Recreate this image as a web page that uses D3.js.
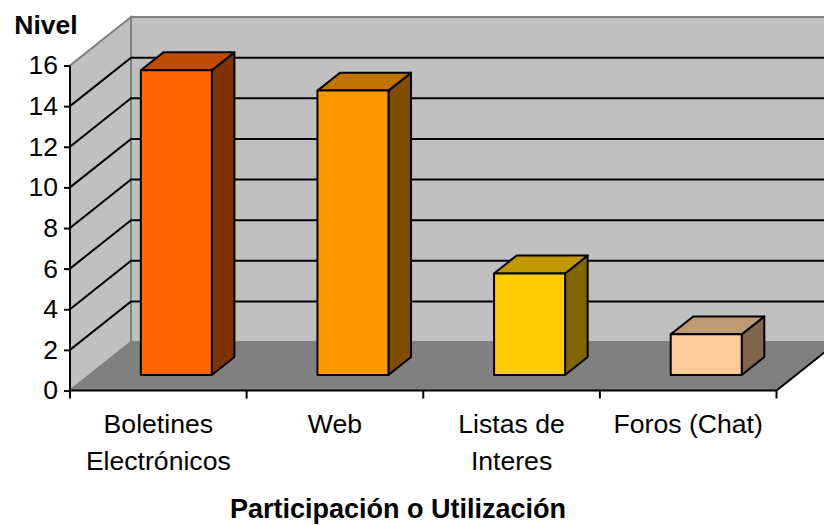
<!DOCTYPE html>
<html>
<head>
<meta charset="utf-8">
<script src="https://cdn.jsdelivr.net/npm/d3@7"></script>
<style>
html, body { margin: 0; padding: 0; background: #fff; }
svg { display: block; }
text { font-family: "Liberation Sans", Arial, sans-serif; fill: #000; }
</style>
</head>
<body>
<svg id="chart"></svg>
<script>
// datos
var categories = ["Boletines|Electrónicos", "Web", "Listas de|Interes", "Foros (Chat)"];
var values = [15, 14, 5, 2];
var faceColors = ["#FF6600", "#FF9900", "#FFCC00", "#FFCC99"];
var topColors = ["#BF4C00", "#BF7300", "#BF9900", "#BF9973"];
var sideColors = ["#7F3300", "#7F4C00", "#7F6600", "#7F664C"];
var yTicks = [0, 2, 4, 6, 8, 10, 12, 14, 16];

var width = 824, height = 525;
var depthX = 61, depthY = -48.5;   // desplazamiento de la pared del fondo

var svg = d3.select("#chart").attr("width", width).attr("height", height);

var x = d3.scaleBand().domain(d3.range(categories.length)).range([70, 776.5]);
var y = d3.scaleLinear().domain([0, 16]).range([390.5, 65.5]);

// proyeccion: valor de x, valor de y, profundidad 0..1
function p(px, py, t) {
    return [px + depthX * t, py + depthY * t];
}
var line = d3.line();
function poly(pts) { return line(pts) + "Z"; }

var xL = x.range()[0], xR = x.range()[1];

// pared lateral
svg.append("path")
    .attr("d", poly([p(xL, y(0), 0), p(xL, y(16), 0), p(xL, y(16), 1), p(xL, y(0), 1)]))
    .attr("fill", "#C0C0C0").attr("stroke", "#808080").attr("stroke-width", 2);
// pared del fondo
svg.append("path")
    .attr("d", poly([p(xL, y(0), 1), p(xL, y(16), 1), p(xR + 20, y(16), 1), p(xR + 20, y(0), 1)]))
    .attr("fill", "#C0C0C0").attr("stroke", "#808080").attr("stroke-width", 2);
// piso
svg.append("path")
    .attr("d", poly([p(xL, y(0), 0), p(xL, y(0), 1), p(xR, y(0), 1), p(xR, y(0), 0)]))
    .attr("fill", "#808080").attr("stroke", "#808080").attr("stroke-width", 1);

// lineas de division
var grid = yTicks.filter(function(d) { return d > 0 && d < 16; });
svg.selectAll(".grid").data(grid).enter().append("path")
    .attr("class", "grid")
    .attr("d", function(d) { return line([p(xL, y(d), 0), p(xL, y(d), 1), p(xR + 20, y(d), 1)]); })
    .attr("fill", "none").attr("stroke", "#000").attr("stroke-width", 2);

// borde derecho del piso
svg.append("path")
    .attr("d", line([p(xL, y(0), 0), p(xR, y(0), 0), p(xR, y(0), 1)]))
    .attr("fill", "none").attr("stroke", "#000").attr("stroke-width", 2);

// barras
var barW = 71, t0 = 0.32, t1 = 0.69, barShift = -1.5;
var bars = svg.selectAll(".bar").data(values).enter().append("g").attr("class", "bar");
function bx(i) { return x(i) + (x.bandwidth() - barW) / 2 + barShift; }
function draw(fill, ptsFn) {
    bars.append("path")
        .attr("d", function(d, i) { return poly(ptsFn(d, i)); })
        .attr("fill", function(d, i) { return fill[i]; })
        .attr("stroke", "#000").attr("stroke-width", 2).attr("stroke-linejoin", "round");
}
draw(sideColors, function(d, i) {
    var r = bx(i) + barW;
    return [p(r, y(0), t0), p(r, y(d), t0), p(r, y(d), t1), p(r, y(0), t1)];
});
draw(topColors, function(d, i) {
    var l = bx(i), r = l + barW;
    return [p(l, y(d), t0), p(r, y(d), t0), p(r, y(d), t1), p(l, y(d), t1)];
});
draw(faceColors, function(d, i) {
    var l = bx(i), r = l + barW;
    return [p(l, y(0), t0), p(r, y(0), t0), p(r, y(d), t0), p(l, y(d), t0)];
});

// eje y
var yAxis = svg.append("g")
    .attr("transform", "translate(" + xL + ",0)")
    .call(d3.axisLeft(y).tickValues(yTicks).tickSize(6).tickPadding(6));
yAxis.selectAll("path, line").attr("stroke", "#000").attr("stroke-width", 2);
yAxis.select(".domain").attr("d", line([[0, y(0)], [0, y(16)]]));
yAxis.selectAll("text").style("font-size", "26.5px").style("font-family", '"Liberation Sans", Arial, sans-serif');

// eje x: marcas en los limites de cada categoria
var edges = d3.range(categories.length + 1).map(function(i) { return xL + i * x.step(); });
svg.selectAll(".xtick").data(edges).enter().append("line")
    .attr("class", "xtick")
    .attr("x1", function(d) { return d; }).attr("x2", function(d) { return d; })
    .attr("y1", y(0)).attr("y2", y(0) + 8)
    .attr("stroke", "#000").attr("stroke-width", 2);

// etiquetas de categoria
var labels = svg.selectAll(".cat").data(categories).enter().append("text")
    .attr("class", "cat")
    .attr("text-anchor", "middle")
    .style("font-size", "26.6px");
labels.selectAll("tspan")
    .data(function(d, i) {
        return d.split("|").map(function(s) { return { s: s, i: i }; });
    })
    .enter().append("tspan")
    .attr("x", function(d) { return x(d.i) + x.bandwidth() / 2; })
    .attr("y", function(d, j) { return 433 + j * 37; })
    .text(function(d) { return d.s; });

// titulos
svg.append("text").attr("x", 46).attr("y", 34).attr("text-anchor", "middle")
    .style("font-size", "26.5px").style("font-weight", "bold").text("Nivel");
svg.append("text").attr("x", 398).attr("y", 518).attr("text-anchor", "middle")
    .style("font-size", "27px").style("font-weight", "bold").text("Participación o Utilización");
</script>
</body>
</html>
